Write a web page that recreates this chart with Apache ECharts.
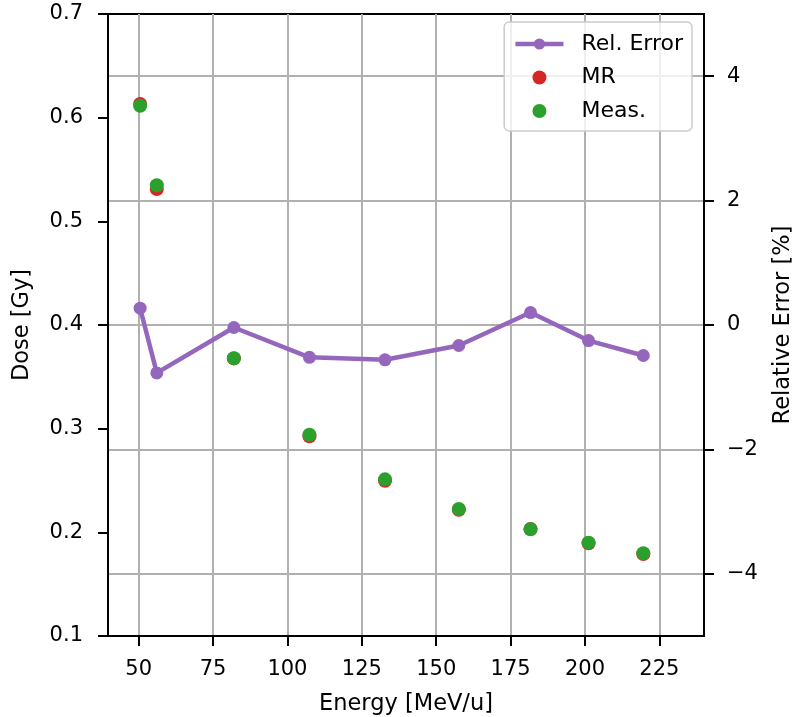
<!DOCTYPE html>
<html>
<head>
<meta charset="utf-8">
<script src="https://cdn.jsdelivr.net/npm/echarts@6/dist/echarts.min.js"></script>
<style>
  html, body { margin: 0; padding: 0; background: #fff; }
  #chart { width: 794px; height: 717px; }
</style>
</head>
<body>
<div id="chart"></div>
<script>
// Beam energies [MeV/u]
const energy = [50.5, 56.1, 82.0, 107.4, 132.8, 157.6, 181.7, 201.2, 219.6];
// Dose from the MR-based calculation [Gy]
const doseMR = [0.6132, 0.5312, 0.3678, 0.2927, 0.2498, 0.2218, 0.2033, 0.1895, 0.1790];
// Measured dose [Gy]
const doseMeas = [0.6115, 0.5348, 0.3679, 0.2942, 0.2511, 0.2225, 0.2029, 0.1900, 0.1798];
// Relative error between calculation and measurement [%]
const relError = [0.27, -0.77, -0.04, -0.52, -0.56, -0.33, 0.20, -0.25, -0.49];

const xTicks = [50, 75, 100, 125, 150, 175, 200, 225];
const rightTicks = [-4, -2, 0, 2, 4];

const FONT = 'DejaVu Sans';
const TICK_FS = 21;
const LABEL_FS = 22.5;
const pairs = (xs, ys) => xs.map((x, i) => [x, ys[i]]);
const minus = v => String(v).replace('-', '\u2212');

const axisLine = { show: true, onZero: false, lineStyle: { color: '#000', width: 2 } };
const tick = extra => Object.assign({ show: true, inside: false, length: 10, lineStyle: { color: '#000', width: 2 } }, extra || {});
const grid = { show: true, lineStyle: { color: '#b0b0b0', width: 2 } };
const nameStyle = { fontFamily: FONT, fontSize: LABEL_FS, color: '#000' };
const tickText = { fontFamily: FONT, fontSize: TICK_FS, color: '#000' };

const chart = echarts.init(document.getElementById('chart'), null, { renderer: 'canvas' });
chart.setOption({
  animation: false,
  backgroundColor: '#ffffff',
  textStyle: { fontFamily: FONT },
  grid: {
    left: 108, right: 90, top: 14, bottom: 81,
    outerBoundsMode: 'none', containLabel: false,
    show: true, borderColor: '#000', borderWidth: 2, backgroundColor: 'transparent'
  },
  legend: {
    data: [
      { name: 'Rel. Error', lineStyle: { width: 4.5 } },
      { name: 'MR' },
      { name: 'Meas.' }
    ],
    orient: 'vertical',
    right: 102, top: 22,
    padding: [10, 9, 8, 9],
    itemGap: 9.5,
    itemWidth: 48, itemHeight: 14,
    backgroundColor: 'rgba(255,255,255,0.8)',
    borderColor: '#cccccc', borderWidth: 1.5, borderRadius: 5,
    textStyle: { fontFamily: FONT, fontSize: 22, lineHeight: 24, color: '#000', padding: [0, 0, 0, 13] }
  },
  xAxis: {
    type: 'value', min: 39.7, max: 240,
    name: 'Energy [MeV/u]', nameLocation: 'middle', nameGap: 57,
    nameTextStyle: nameStyle,
    axisLine: axisLine,
    axisTick: tick({ customValues: xTicks }),
    axisLabel: Object.assign({ margin: 23, customValues: xTicks }, tickText),
    splitLine: grid
  },
  yAxis: [
    {
      type: 'value', min: 0.1, max: 0.7, interval: 0.1, position: 'left',
      name: 'Dose [Gy]', nameLocation: 'middle', nameGap: 74,
      nameTextStyle: nameStyle,
      axisLine: axisLine,
      axisTick: tick(),
      axisLabel: Object.assign({ margin: 25, formatter: v => v.toFixed(1) }, tickText),
      splitLine: { show: false }
    },
    {
      type: 'value', min: -5, max: 5, position: 'right',
      name: 'Relative Error [%]', nameLocation: 'middle', nameGap: 68,
      nameTextStyle: nameStyle,
      axisLine: axisLine,
      axisTick: tick({ customValues: rightTicks }),
      axisLabel: Object.assign({ margin: 23, customValues: rightTicks, formatter: minus }, tickText),
      splitLine: grid
    }
  ],
  series: [
    {
      name: 'MR', type: 'scatter', yAxisIndex: 0, z: 3,
      data: pairs(energy, doseMR),
      symbol: 'circle', symbolSize: 14,
      itemStyle: { color: '#d62728', opacity: 1 }
    },
    {
      name: 'Meas.', type: 'scatter', yAxisIndex: 0, z: 4,
      data: pairs(energy, doseMeas),
      symbol: 'circle', symbolSize: 14,
      itemStyle: { color: '#2ca02c', opacity: 1 }
    },
    {
      name: 'Rel. Error', type: 'line', yAxisIndex: 1, z: 5,
      data: pairs(energy, relError),
      symbol: 'circle', symbolSize: 13, showSymbol: true,
      lineStyle: { color: '#9467bd', width: 4.5 },
      itemStyle: { color: '#9467bd', opacity: 1 }
    }
  ]
});
</script>
</body>
</html>
